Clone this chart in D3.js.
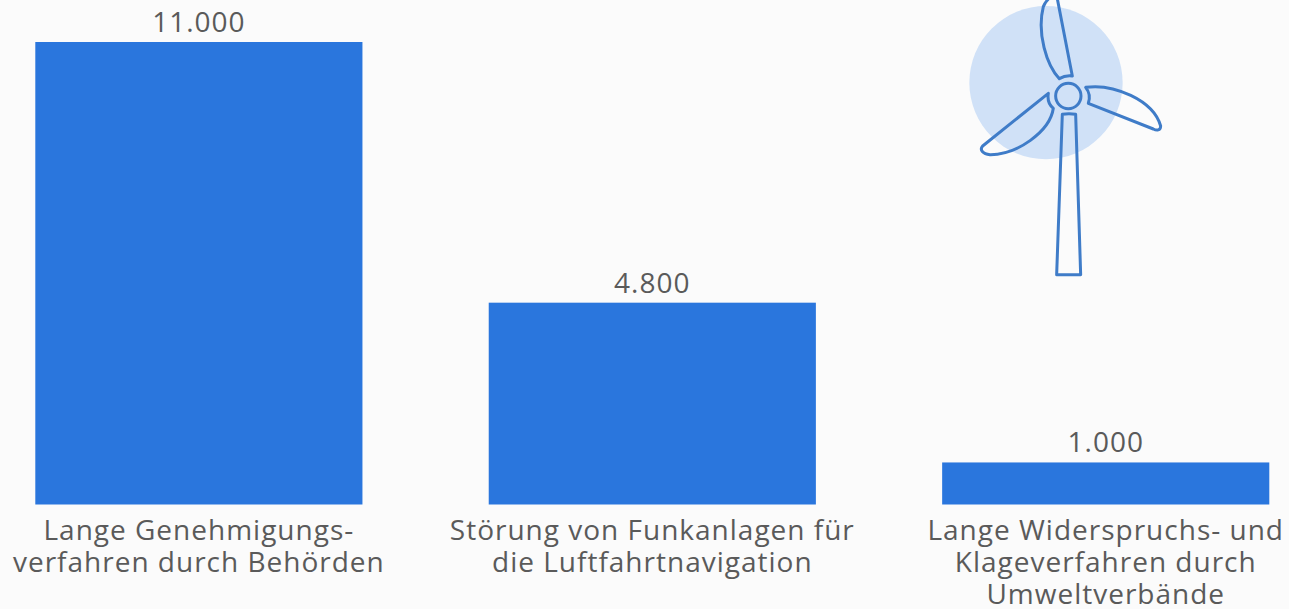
<!DOCTYPE html>
<html><head><meta charset="utf-8">
<script src="https://cdn.jsdelivr.net/npm/d3@7"></script>
<style>html,body{margin:0;padding:0;background:#fbfbfb}svg{display:block}text{font-family:"Open Sans",sans-serif;fill:#5a5a5a;letter-spacing:1px}</style>
</head><body><svg id="c" width="1289" height="609"></svg>
<script>
const categories=[["Lange Genehmigungs-","verfahren durch Behörden"],["Störung von Funkanlagen für","die Luftfahrtnavigation"],["Lange Widerspruchs- und","Klageverfahren durch","Umweltverbände"]];
const values=[11000,4800,1000];
const valueLabels=["11.000","4.800","1.000"];
const svg=d3.select("#c");
const x=d3.scaleBand().domain(d3.range(categories.length)).range([35.3,1269.3]).paddingInner(0.2785).paddingOuter(0);
const y=d3.scaleLinear().domain([0,11000]).range([504.5,42]);
svg.selectAll("rect.bar").data(values).join("rect").attr("class","bar")
 .attr("x",(d,i)=>x(i)).attr("width",x.bandwidth()).attr("y",d=>y(d)).attr("height",d=>y(0)-y(d)).attr("fill","#2a76dd");
svg.selectAll("text.val").data(values).join("text").attr("class","val")
 .attr("x",(d,i)=>x(i)+x.bandwidth()/2).attr("y",d=>y(d)-10).attr("text-anchor","middle")
 .attr("font-size",28).text((d,i)=>valueLabels[i]);
categories.forEach((lines,i)=>{
 lines.forEach((t,j)=>{
  svg.append("text").attr("class","cat").attr("x",x(i)+x.bandwidth()/2).attr("y",540+j*32)
   .attr("text-anchor","middle").attr("font-size",28).text(t);
 });
});
// Wind turbine icon (coordinates in the icon's own 3x crop space)
const icon=svg.append("g").attr("transform","translate(940,0) scale(0.3333)");
icon.append("circle").attr("cx",318).attr("cy",248).attr("r",230).attr("fill","#d0e1f7");
const st={fill:"none",stroke:"#3f7cc8","stroke-width":9,"stroke-linejoin":"round"};
const paths=[
 "M358,236 C320,195 290,100 310,20 C316,5 330,-12 350,-14 L397,228 C382,226 368,230 358,236 Z",
 "M437,262 C520,250 640,300 662,378 C662,392 650,392 640,387 L445,310 C450,295 450,278 437,262 Z",
 "M325,280 L128,438 C118,450 128,462 150,464 C230,465 330,395 340,325 C328,315 322,298 325,280 Z",
 "M367,343 Q387,339 407,343 L422,824 L350,824 Z"
];
paths.forEach(p=>{const e=icon.append("path").attr("d",p);Object.entries(st).forEach(([k,v])=>e.attr(k,v));});
const hub=icon.append("circle").attr("cx",385).attr("cy",288).attr("r",38);Object.entries(st).forEach(([k,v])=>hub.attr(k,v));
</script></body></html>
